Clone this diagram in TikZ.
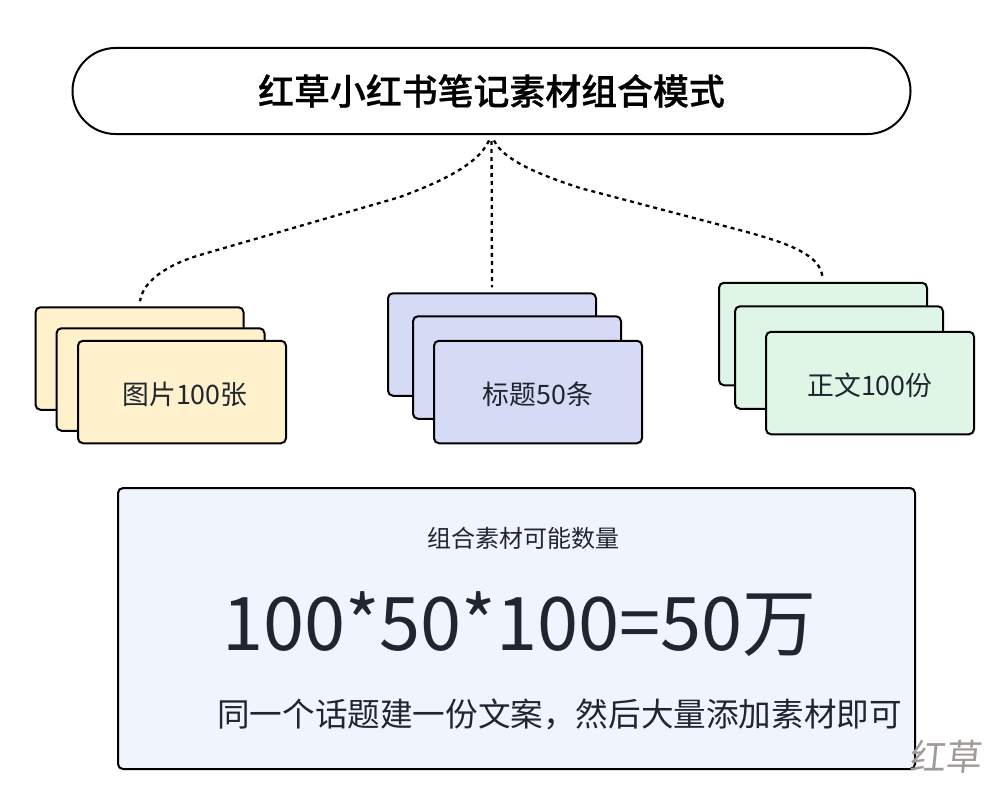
\documentclass[tikz,border=0pt]{standalone}
\usepackage{fontspec}
\usepackage{xcolor}
\newfontfamily\cjk[BoldFont={Noto Sans CJK SC Medium},BoldFeatures={FakeBold=0.6}]{Noto Sans CJK SC}
\definecolor{inkdark}{HTML}{20252F}
\definecolor{cardyellow}{HTML}{FFF1CC}
\definecolor{cardblue}{HTML}{D6DBF5}
\definecolor{cardgreen}{HTML}{DFF5E5}
\definecolor{boxblue}{HTML}{F0F4FD}
\definecolor{markgray}{HTML}{A09A98}
\tikzset{
  card/.style={draw=black,line width=2pt,rounded corners=5pt,minimum width=208pt,minimum height=102.5pt,inner sep=0pt,text=inkdark,font=\cjk\fontsize{26.8}{30}\selectfont},
  link/.style={line width=2.3pt,dash pattern=on 4pt off 4pt,shorten <=6pt,shorten >=5pt}
}

\begin{document}
\begin{tikzpicture}[x=1pt,y=-1pt]
      \useasboundingbox (0,0) rectangle (995,789);
      \node [draw=black,line width=2pt,rounded corners=43pt,minimum width=838pt,minimum height=86pt,font=\cjk\bfseries\fontsize{35.9}{40}\selectfont,text=black] (title) at (491.5,91) {红草小红书笔记素材组合模式};
      % image cards
      \node [card,fill=cardyellow] (imgback) at (139.5,358.5) {};
      \node [card,fill=cardyellow] (imgmid) at (160.5,379.5) {};
      \node [card,fill=cardyellow] (imgfront) at (182,392) {};
      \node [text=inkdark,font=\cjk\fontsize{26.8}{30}\selectfont] (imglabel) at (185,394) {图片100张};
      % title cards
      \node [card,fill=cardblue] (headback) at (492,344.5) {};
      \node [card,fill=cardblue] (headmid) at (517,367.5) {};
      \node [card,fill=cardblue] (headfront) at (538,392) {};
      \node [text=inkdark,font=\cjk\fontsize{26.8}{30}\selectfont] (headlabel) at (538,394) {标题50条};
      % text cards
      \node [card,fill=cardgreen] (bodyback) at (823,334) {};
      \node [card,fill=cardgreen] (bodymid) at (839,357.5) {};
      \node [card,fill=cardgreen] (bodyfront) at (870,383) {};
      \node [text=inkdark,font=\cjk\fontsize{26.8}{30}\selectfont] (bodylabel) at (870,385) {正文100份};
      % connectors
      \draw [link] (title.south) .. controls (478,165) and (440,182) .. (400,197) -- (200,255) .. controls (160,267) and (142,285) .. (imgback.north);
      \draw [link] (title.south) -- (headback.north);
      \draw [link] (title.south) .. controls (503,160) and (540,175) .. (580,188) -- (747,232) .. controls (790,244) and (820,255) .. (bodyback.north);
      % result box
      \node [draw=black,line width=2pt,fill=boxblue,rounded corners=5pt,minimum width=797pt,minimum height=281pt] (result) at (516.5,628.5) {};
      \node [text=inkdark,font=\cjk\fontsize{24}{28}\selectfont] (resultcap) at (523,538) {组合素材可能数量};
      \node [text=inkdark,font=\cjk\fontsize{74}{80}\selectfont] (resultsum) at (519.5,624) {100*50*100=50万};
      \node [text=inkdark,font=\cjk\fontsize{32.6}{36}\selectfont] (resultnote) at (559.5,714) {同一个话题建一份文案，然后大量添加素材即可};
      \node [text=markgray,font=\cjk\fontsize{36}{40}\selectfont,xslant=0.1] (mark) at (947,757) {红草};
    \end{tikzpicture}
\end{document}
